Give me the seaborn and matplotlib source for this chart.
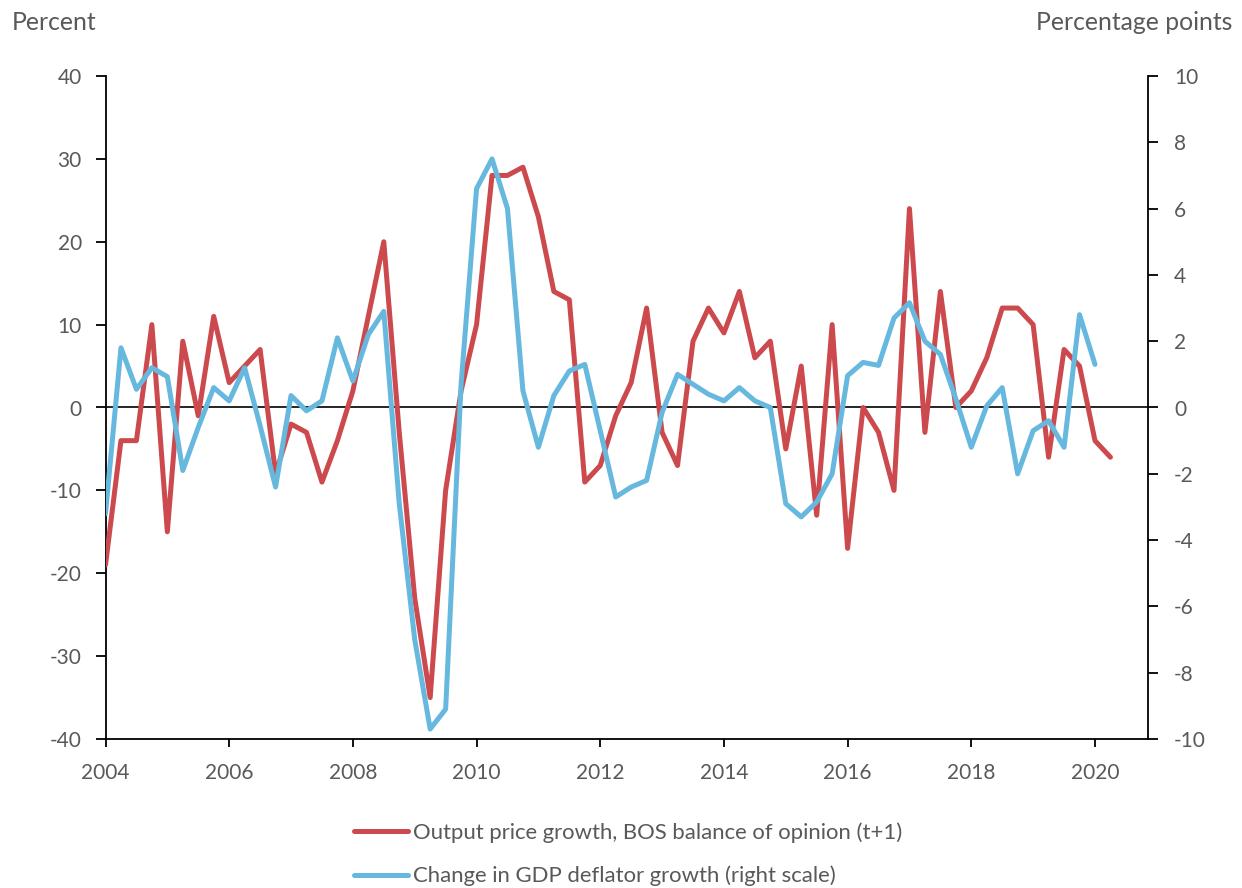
import numpy as np
import pandas as pd
import matplotlib
matplotlib.use("Agg")
import matplotlib.pyplot as plt
import seaborn as sns

# --- Dados (trimestrais, 2004T1 em diante) ---
bos_output_price = [-19, -4, -4, 10, -15, 8, -1, 11, 3, 5,
                    7, -8, -2, -3, -9, -4, 2, 11, 20, -3,
                    -23, -35, -10, 2, 10, 28, 28, 29, 23, 14,
                    13, -9, -7, -1, 3, 12, -3, -7, 8, 12,
                    9, 14, 6, 8, -5, 5, -13, 10, -17, 0,
                    -3, -10, 24, -3, 14, 0, 2, 6, 12, 12,
                    10, -6, 7, 5, -4, -6]
gdp_deflator_change = [-3.2, 1.8, 0.55, 1.2, 0.93, -1.9, -0.6, 0.6, 0.2, 1.2,
                       -0.55, -2.4, 0.36, -0.1, 0.2, 2.1, 0.8, 2.2, 2.9, -2.9,
                       -7.0, -9.7, -9.1, 0.7, 6.6, 7.5, 6.0, 0.5, -1.2, 0.36,
                       1.1, 1.3, -0.7, -2.7, -2.4, -2.2, -0.15, 1.0, 0.7, 0.4,
                       0.2, 0.6, 0.2, 0.0, -2.9, -3.3, -2.85, -2.0, 0.96, 1.36,
                       1.27, 2.7, 3.16, 2.0, 1.6, 0.26, -1.2, 0.05, 0.6, -2.0,
                       -0.7, -0.4, -1.2, 2.8, 1.3]
start_year = 2004
year_ticks = list(range(2004, 2021, 2))
left_ticks = list(range(-40, 41, 10))
right_ticks = list(range(-10, 11, 2))

label_bos = "Output price growth, BOS balance of opinion (t+1)"
label_defl = "Change in GDP deflator growth (right scale)"

df_bos = pd.DataFrame({"quarter": start_year + np.arange(len(bos_output_price)) / 4,
                       "value": bos_output_price})
df_defl = pd.DataFrame({"quarter": start_year + np.arange(len(gdp_deflator_change)) / 4,
                        "value": gdp_deflator_change})

RED = "#CC4A4D"
BLUE = "#66B8DE"
GREY = "#595959"

# --- Estilo ---
sns.set_style("ticks")
plt.rcParams["font.family"] = ["Lato", "DejaVu Sans"]
plt.rcParams["axes.unicode_minus"] = False

fig = plt.figure(figsize=(12.42, 8.88), dpi=100)
ax = fig.add_axes([105.5 / 1242, 1 - 739 / 888, (1147.7 - 105.5) / 1242, (739 - 76) / 888])
ax2 = ax.twinx()

ax.axhline(0, color="black", linewidth=1.2, zorder=1)
sns.lineplot(data=df_bos, x="quarter", y="value", ax=ax, color=RED,
             linewidth=3.6, label=label_bos, zorder=3)
sns.lineplot(data=df_defl, x="quarter", y="value", ax=ax2, color=BLUE,
             linewidth=3.6, label=label_defl, zorder=3)

ax.set_xlim(2004, 2004 + 67.41 / 4)
ax.set_ylim(-40, 40)
ax2.set_ylim(-10, 10)
ax.set_xticks(year_ticks)
ax.set_yticks(left_ticks)
ax2.set_yticks(right_ticks)
ax.set_xlabel("")
ax.set_ylabel("")
ax2.set_ylabel("")

for a in (ax, ax2):
    a.spines["top"].set_visible(False)
    for s in a.spines.values():
        s.set_color("black")
        s.set_linewidth(1.3)
ax.spines["right"].set_visible(False)
ax2.spines["left"].set_visible(False)
ax2.spines["bottom"].set_visible(False)

ax.tick_params(axis="y", direction="out", length=7, width=1.3, color="black",
               labelcolor=GREY, labelsize=15, pad=10)
ax.tick_params(axis="x", direction="out", length=6, width=1.3, color="black",
               labelcolor=GREY, labelsize=15, pad=11)
ax2.tick_params(axis="y", direction="out", length=7, width=1.3, color="black",
                labelcolor=GREY, labelsize=15, pad=12)

# legenda combinada abaixo do gráfico
h1, l1 = ax.get_legend_handles_labels()
h2, l2 = ax2.get_legend_handles_labels()
ax.get_legend().remove()
ax2.get_legend().remove()
fig.legend(h1 + h2, l1 + l2, loc="upper left", bbox_to_anchor=(354 / 1242, 1 - 822 / 888),
           frameon=False, borderpad=0, borderaxespad=0, handlelength=2.45,
           handletextpad=0.22, labelspacing=1.05, fontsize=15.9, labelcolor=GREY)

fig.text(12 / 1242, 1 - 22 / 888, "Percent", ha="left", va="center", fontsize=17.8, color=GREY)
fig.text(1232 / 1242, 1 - 22 / 888, "Percentage points", ha="right", va="center",
         fontsize=17.8, color=GREY)

fig.savefig("out.png", dpi=100)
plt.close(fig)
